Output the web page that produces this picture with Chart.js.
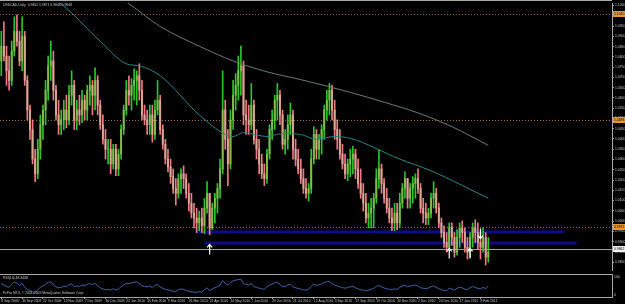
<!DOCTYPE html>
<html>
<head>
<meta charset="utf-8">
<script src="https://cdn.jsdelivr.net/npm/chart.js@4.4.1/dist/chart.umd.min.js"></script>
<style>
html, body { margin: 0; padding: 0; background: #000; }
#wrap { position: relative; width: 625px; height: 304px; overflow: hidden; background: #000; }
canvas { position: absolute; left: 0; }
#price-chart { top: 0; }
#rsi-chart { top: 274px; }
</style>
</head>
<body>
<div id="wrap">
  <canvas id="price-chart" width="625" height="274"></canvas>
  <canvas id="rsi-chart" width="625" height="30"></canvas>
</div>
<script>
// USDCAD daily, one candle per two sessions, Sep 2009 - Feb 2011
const firstOpen = 1.0780;
const highs = [
  1.0924,1.0971,1.0852,1.0804,1.0876,1.0995,1.1005,1.0924,1.0995,1.0924,
  1.0708,1.0565,1.0493,1.0350,1.0398,1.0517,1.0565,1.0685,1.0804,1.0876,
  1.0828,1.0661,1.0589,1.0541,1.0589,1.0613,1.0661,1.0732,1.0685,1.0589,
  1.0613,1.0637,1.0613,1.0661,1.0708,1.0685,1.0747,1.0708,1.0589,1.0517,
  1.0446,1.0398,1.0398,1.0374,1.0374,1.0350,1.0469,1.0565,1.0685,1.0708,
  1.0694,1.0742,1.0732,1.0766,1.0685,1.0565,1.0541,1.0565,1.0565,1.0589,
  1.0685,1.0613,1.0469,1.0398,1.0350,1.0302,1.0254,1.0207,1.0230,1.0254,
  1.0269,1.0230,1.0183,1.0135,1.0087,1.0063,1.0049,1.0063,1.0111,1.0192,
  1.0135,1.0087,1.0135,1.0183,1.0302,1.0732,1.0589,1.0446,1.0541,1.0685,
  1.0718,1.0804,1.0852,1.0780,1.0589,1.0565,1.0670,1.0589,1.0446,1.0398,
  1.0326,1.0278,1.0350,1.0469,1.0541,1.0613,1.0670,1.0637,1.0541,1.0446,
  1.0517,1.0575,1.0541,1.0398,1.0350,1.0302,1.0254,1.0207,1.0183,1.0350,
  1.0460,1.0446,1.0422,1.0469,1.0565,1.0637,1.0670,1.0661,1.0589,1.0493,
  1.0446,1.0374,1.0326,1.0302,1.0350,1.0364,1.0350,1.0302,1.0254,1.0183,
  1.0135,1.0087,1.0111,1.0135,1.0254,1.0350,1.0278,1.0207,1.0159,1.0111,
  1.0063,1.0087,1.0087,1.0135,1.0183,1.0240,1.0207,1.0183,1.0216,1.0230,
  1.0254,1.0183,1.0111,1.0087,1.0063,1.0135,1.0192,1.0159,1.0087,1.0015,
  0.9977,0.9944,0.9991,0.9991,0.9944,0.9958,0.9991,1.0001,0.9967,0.9920,
  0.9944,0.9991,1.0006,0.9991,0.9944,0.9967,0.9944,0.9920
];
const lows = [
  1.0708,1.0780,1.0661,1.0637,1.0661,1.0804,1.0852,1.0756,1.0732,1.0661,
  1.0493,1.0398,1.0278,1.0192,1.0207,1.0302,1.0398,1.0469,1.0589,1.0685,
  1.0589,1.0493,1.0422,1.0422,1.0446,1.0455,1.0469,1.0565,1.0446,1.0446,
  1.0469,1.0479,1.0493,1.0493,1.0565,1.0517,1.0541,1.0517,1.0446,1.0374,
  1.0302,1.0278,1.0230,1.0254,1.0221,1.0221,1.0302,1.0422,1.0517,1.0565,
  1.0541,1.0589,1.0565,1.0589,1.0493,1.0469,1.0422,1.0422,1.0384,1.0398,
  1.0517,1.0422,1.0350,1.0278,1.0240,1.0183,1.0135,1.0078,1.0111,1.0135,
  1.0159,1.0111,1.0049,1.0015,0.9967,0.9944,0.9953,0.9944,0.9939,1.0039,
  0.9934,0.9958,0.9991,1.0039,1.0111,1.0230,1.0350,1.0173,1.0254,1.0446,
  1.0541,1.0589,1.0613,1.0469,1.0422,1.0422,1.0446,1.0374,1.0302,1.0230,
  1.0207,1.0173,1.0183,1.0302,1.0398,1.0446,1.0493,1.0469,1.0350,1.0326,
  1.0350,1.0422,1.0302,1.0269,1.0230,1.0183,1.0135,1.0111,1.0097,1.0135,
  1.0278,1.0302,1.0302,1.0326,1.0398,1.0493,1.0517,1.0493,1.0398,1.0350,
  1.0302,1.0254,1.0207,1.0197,1.0216,1.0230,1.0207,1.0159,1.0111,1.0049,
  0.9991,0.9967,0.9967,0.9967,1.0087,1.0159,1.0135,1.0087,1.0039,0.9991,
  0.9953,0.9953,0.9958,0.9967,1.0063,1.0111,1.0063,1.0063,1.0087,1.0111,
  1.0135,1.0039,0.9991,0.9982,0.9982,1.0015,1.0063,1.0039,0.9967,0.9920,
  0.9872,0.9848,0.9858,0.9882,0.9824,0.9834,0.9872,0.9896,0.9848,0.9815,
  0.9824,0.9872,0.9896,0.9862,0.9815,0.9848,0.9786,0.9800
];
const closes = [
  1.0852,1.0804,1.0732,1.0685,1.0828,1.0924,1.0876,1.0780,1.0900,1.0685,
  1.0541,1.0446,1.0302,1.0230,1.0350,1.0469,1.0541,1.0637,1.0756,1.0780,
  1.0637,1.0517,1.0469,1.0493,1.0541,1.0493,1.0613,1.0661,1.0493,1.0541,
  1.0517,1.0589,1.0541,1.0637,1.0661,1.0613,1.0685,1.0565,1.0469,1.0398,
  1.0350,1.0350,1.0278,1.0350,1.0254,1.0326,1.0446,1.0541,1.0637,1.0613,
  1.0661,1.0685,1.0708,1.0637,1.0517,1.0493,1.0469,1.0517,1.0422,1.0541,
  1.0589,1.0446,1.0374,1.0302,1.0264,1.0216,1.0159,1.0135,1.0207,1.0230,
  1.0207,1.0135,1.0087,1.0039,1.0015,0.9991,1.0015,0.9977,1.0063,1.0135,
  0.9967,1.0063,1.0111,1.0159,1.0254,1.0541,1.0398,1.0278,1.0493,1.0613,
  1.0661,1.0732,1.0756,1.0517,1.0493,1.0469,1.0565,1.0398,1.0350,1.0278,
  1.0230,1.0207,1.0326,1.0446,1.0493,1.0589,1.0613,1.0517,1.0374,1.0398,
  1.0469,1.0517,1.0350,1.0302,1.0254,1.0207,1.0159,1.0135,1.0159,1.0302,
  1.0422,1.0350,1.0398,1.0446,1.0541,1.0589,1.0637,1.0541,1.0446,1.0398,
  1.0326,1.0278,1.0230,1.0278,1.0302,1.0326,1.0254,1.0183,1.0135,1.0087,
  1.0015,1.0039,1.0063,1.0111,1.0207,1.0254,1.0183,1.0111,1.0063,1.0015,
  0.9991,1.0039,0.9991,1.0087,1.0159,1.0207,1.0111,1.0159,1.0183,1.0207,
  1.0159,1.0063,1.0039,1.0015,1.0039,1.0111,1.0135,1.0063,0.9991,0.9944,
  0.9896,0.9872,0.9967,0.9920,0.9848,0.9920,0.9967,0.9944,0.9872,0.9848,
  0.9920,0.9967,0.9944,0.9896,0.9872,0.9920,0.9824,0.9848
];
const rsiValues = [
  58,52,45,42,55,65,60,50,60,42,
  33,28,22,20,32,42,48,56,64,66,
  52,44,40,42,47,44,54,58,44,48,
  46,52,48,56,58,54,60,48,40,35,
  32,33,30,36,30,35,45,52,60,58,
  62,64,66,58,48,46,44,48,40,50,
  55,44,38,33,31,28,25,24,32,35,
  33,28,25,22,21,20,23,21,32,40,
  27,36,40,45,52,72,60,52,64,70,
  73,76,77,58,55,52,58,45,42,38,
  35,34,44,52,56,62,64,55,44,46,
  52,56,44,40,37,34,31,30,34,47,
  56,50,53,57,63,66,68,59,52,48,
  44,41,38,42,44,46,40,35,32,30,
  27,30,33,37,46,50,44,39,36,33,
  31,36,33,42,48,52,44,48,50,52,
  48,40,38,36,39,45,48,42,36,32,
  28,27,38,35,30,38,42,40,34,32,
  40,45,42,37,35,42,36,48
];

// moving averages (slot, price)
const maFastSlots = [18, 22, 38, 48, 53, 61, 76, 86, 89, 93, 102, 108, 115, 121, 128, 134, 153, 165, 187];
const maFastValues = [1.1090, 1.1067, 1.0876, 1.0766, 1.0756, 1.0708, 1.0517, 1.0422, 1.0412, 1.0431, 1.0412, 1.0426, 1.0422, 1.0398, 1.0412, 1.0403, 1.0302, 1.0245, 1.0111];
const maSlowSlots = [46, 48, 61, 76, 89, 102, 115, 134, 147, 160, 173, 187];
const maSlowValues = [1.1081, 1.1067, 1.0948, 1.0852, 1.0780, 1.0727, 1.0689, 1.0627, 1.0579, 1.0527, 1.0460, 1.0369];

// chart objects
const dottedLevels = [1.1010, 1.0493, 0.9972];
const greyLevel = 0.9862;
const blueLevels = [0.9948, 0.9895];
const blueStart = [75, 78];
const blueEnd = [216, 221];
const arrowSlots = [80, 172, 180, 184];
const arrowPrices = [0.9886, 0.9867, 0.9867, 0.9915];
const arrowDirs = ['up', 'up', 'up', 'down'];

const dateLabels = ['8 Sep 2009','30 Sep 2009','22 Oct 2009','13 Nov 2009','7 Dec 2009','30 Dec 2009',
  '22 Jan 2010','15 Feb 2010','9 Mar 2010','31 Mar 2010','22 Apr 2010','14 May 2010','7 Jun 2010',
  '29 Jun 2010','21 Jul 2010','12 Aug 2010','3 Sep 2010','27 Sep 2010','19 Oct 2010','10 Nov 2010',
  '2 Dec 2010','24 Dec 2010','17 Jan 2011','8 Feb 2011'];
const slotCount = 235;
const labelEvery = 8;

const fontFam = "'Liberation Sans Narrow', 'Liberation Sans', sans-serif";
const smallFont = '3.4px ' + fontFam;
const textColor = '#c8c8c8';
const frameColor = '#a8a8a8';

const slots = Array.from({ length: slotCount }, (_, i) => i);
const opens = [firstOpen].concat(closes.slice(0, -1));
const wicks = lows.map((l, i) => [l, highs[i]]);
const bodies = closes.map((c, i) => [opens[i], c]);
const isUp = closes.map((c, i) => c >= opens[i]);
const wickColors = isUp.map(u => u ? '#28c828' : '#f07888');
const bodyColors = isUp.map(u => u ? '#86b84c' : '#d8a890');

const priceDecor = {
  id: 'priceDecor',
  beforeDatasetsDraw(chart) {
    const { ctx, chartArea: a, scales: { x, y } } = chart;
    ctx.save();
    ctx.lineWidth = 1;
    ctx.strokeStyle = '#a8692e';
    ctx.setLineDash([1, 2]);
    dottedLevels.forEach(v => {
      const py = Math.round(y.getPixelForValue(v)) + 0.5;
      ctx.beginPath(); ctx.moveTo(a.left, py); ctx.lineTo(a.right, py); ctx.stroke();
    });
    ctx.setLineDash([]);
    ctx.strokeStyle = '#a0a0a0';
    const gy = Math.round(y.getPixelForValue(greyLevel)) + 0.5;
    ctx.beginPath(); ctx.moveTo(a.left, gy); ctx.lineTo(a.right, gy); ctx.stroke();
    ctx.strokeStyle = '#0c0c88';
    ctx.lineWidth = 3;
    blueLevels.forEach((v, i) => {
      const py = Math.round(y.getPixelForValue(v));
      ctx.beginPath();
      ctx.moveTo(x.getPixelForValue(blueStart[i]), py);
      ctx.lineTo(x.getPixelForValue(blueEnd[i]), py);
      ctx.stroke();
    });
    ctx.restore();
  },
  afterDatasetsDraw(chart) {
    const { ctx, scales: { x, y } } = chart;
    ctx.save();
    ctx.strokeStyle = '#ffffff';
    ctx.lineWidth = 1.2;
    arrowSlots.forEach((s, i) => {
      const px = x.getPixelForValue(s);
      const tip = y.getPixelForValue(arrowPrices[i]);
      const d = arrowDirs[i] === 'up' ? 1 : -1;
      ctx.beginPath();
      ctx.moveTo(px, tip); ctx.lineTo(px, tip + 10 * d);
      ctx.moveTo(px - 2.5, tip + 3 * d); ctx.lineTo(px, tip); ctx.lineTo(px + 2.5, tip + 3 * d);
      ctx.stroke();
    });
    ctx.restore();
  },
  afterDraw(chart) {
    const { ctx, chartArea: a, scales: { y } } = chart;
    ctx.save();
    ctx.strokeStyle = frameColor;
    ctx.lineWidth = 1;
    ctx.beginPath(); ctx.moveTo(0, 0.5); ctx.lineTo(a.right, 0.5); ctx.stroke();
    ctx.font = smallFont;
    ctx.textBaseline = 'middle';
    dottedLevels.forEach(v => {
      const py = Math.round(y.getPixelForValue(v));
      ctx.fillStyle = '#e8962e';
      ctx.fillRect(a.right + 1, py - 3, 13, 6);
      ctx.fillStyle = '#000';
      ctx.fillText(v.toFixed(4), a.right + 2, py);
    });
    const gy = Math.round(y.getPixelForValue(greyLevel));
    ctx.fillStyle = '#f0f0f0';
    ctx.fillRect(a.right + 1, gy - 3, 13, 6);
    ctx.fillStyle = '#000';
    ctx.fillText(greyLevel.toFixed(4), a.right + 2, gy);
    ctx.fillStyle = textColor;
    ctx.fillText('USDCAD,Daily  0.9852 0.9871 0.9846 0.9848', 3, 5);
    ctx.restore();
  }
};

const priceChart = new Chart(document.getElementById('price-chart'), {
  type: 'bar',
  data: {
    labels: slots,
    datasets: [
      {
        type: 'line',
        data: maSlowSlots.map((s, i) => ({ x: s, y: maSlowValues[i] })),
        borderColor: '#6a7d72',
        borderWidth: 1,
        pointRadius: 0,
        cubicInterpolationMode: 'monotone',
        order: 0
      },
      {
        type: 'line',
        data: maFastSlots.map((s, i) => ({ x: s, y: maFastValues[i] })),
        borderColor: '#2a8484',
        borderWidth: 1,
        pointRadius: 0,
        cubicInterpolationMode: 'monotone',
        order: 0
      },
      {
        data: wicks,
        backgroundColor: wickColors,
        barThickness: 1,
        grouped: false,
        order: 2
      },
      {
        data: bodies,
        backgroundColor: bodyColors,
        barThickness: 1.3,
        grouped: false,
        order: 1
      }
    ]
  },
  options: {
    responsive: false,
    animation: false,
    layout: { padding: { top: 1, left: 0, right: 0, bottom: 0 } },
    plugins: { legend: { display: false }, tooltip: { enabled: false } },
    scales: {
      x: { display: false, offset: true },
      y: {
        position: 'right',
        min: 0.9757,
        max: 1.1062,
        afterFit: s => { s.width = 13; },
        ticks: {
          stepSize: 0.005,
          includeBounds: false,
          padding: 1,
          color: textColor,
          font: { size: 3.4, family: fontFam },
          callback: v => v.toFixed(4)
        },
        grid: { drawOnChartArea: false, tickLength: 2, tickColor: frameColor },
        border: { color: frameColor }
      }
    }
  },
  plugins: [priceDecor]
});

const rsiDecor = {
  id: 'rsiDecor',
  afterDraw(chart) {
    const { ctx, chartArea: a } = chart;
    ctx.save();
    ctx.strokeStyle = frameColor;
    ctx.lineWidth = 1;
    ctx.beginPath(); ctx.moveTo(0, 0.5); ctx.lineTo(a.right, 0.5); ctx.stroke();
    ctx.font = smallFont;
    ctx.textBaseline = 'middle';
    ctx.fillStyle = textColor;
    ctx.fillText('RSI(14) 48.3448', 3, 4);
    ctx.fillText('FxPro MT4, \u00a9 2001-2009 MetaQuotes Software Corp.', 3, 19);
    ctx.fillText('100', a.right + 2, 3);
    ctx.fillText('0', a.right + 2, a.bottom - 2);
    ctx.restore();
  }
};

const rsiChart = new Chart(document.getElementById('rsi-chart'), {
  type: 'line',
  data: {
    labels: slots,
    datasets: [{
      data: rsiValues,
      borderColor: '#3e62a8',
      borderWidth: 1,
      pointRadius: 0
    }]
  },
  options: {
    responsive: false,
    animation: false,
    layout: { padding: 0 },
    plugins: { legend: { display: false }, tooltip: { enabled: false } },
    scales: {
      x: {
        offset: true,
        afterFit: s => { s.height = 7; },
        ticks: {
          autoSkip: false,
          maxRotation: 0,
          minRotation: 0,
          align: 'start',
          padding: 0,
          color: textColor,
          font: { size: 3.4, family: fontFam },
          callback: (v, i) => (i % labelEvery === 0 && dateLabels[i / labelEvery]) ? dateLabels[i / labelEvery] : ''
        },
        grid: {
          drawOnChartArea: false,
          tickLength: 2,
          tickColor: c => (c.index % labelEvery === 0 && c.index / labelEvery < dateLabels.length) ? frameColor : 'rgba(0,0,0,0)'
        },
        border: { color: frameColor }
      },
      y: {
        position: 'right',
        min: 0,
        max: 100,
        afterFit: s => { s.width = 13; },
        ticks: { display: false },
        grid: { display: false },
        border: { color: frameColor }
      }
    }
  },
  plugins: [rsiDecor]
});
</script>
</body>
</html>
